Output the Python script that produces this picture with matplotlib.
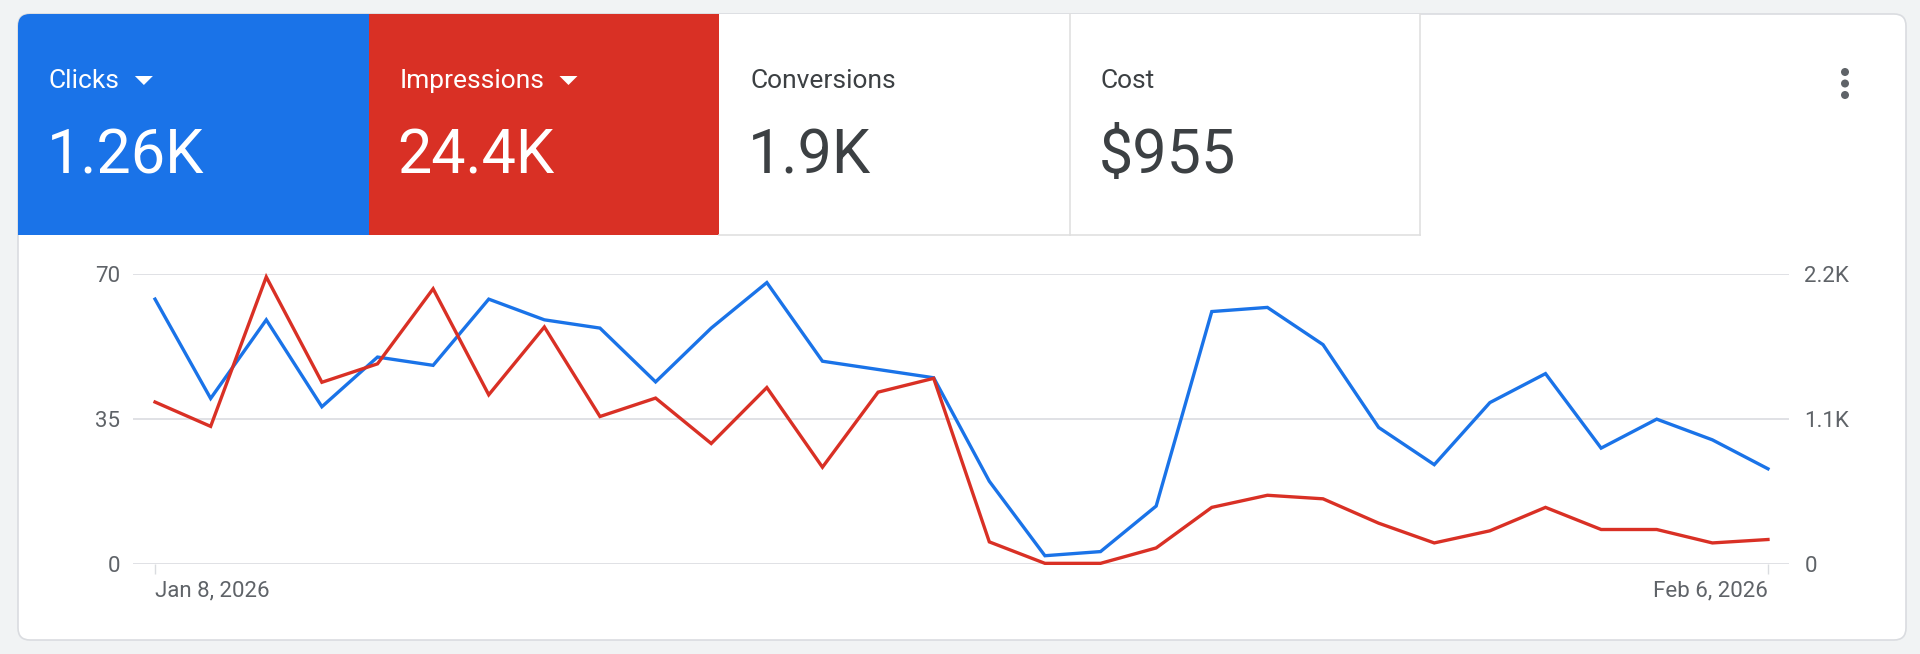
import numpy as np
import pandas as pd
import matplotlib
matplotlib.use('Agg')
import matplotlib.pyplot as plt
from matplotlib.patches import FancyBboxPatch, Rectangle, Polygon, Circle


dates = pd.date_range('2026-01-08', '2026-02-06', freq='D')
clicks = [64, 40, 59, 38, 50, 48, 64, 59, 57, 44, 57, 68, 49, 47, 45,
          20, 2, 3, 14, 61, 62, 53, 33, 24, 39, 46, 28, 35, 30, 23]
impressions = [1230, 1045, 2180, 1380, 1520, 2090, 1285, 1800, 1120, 1260,
               915, 1340, 735, 1305, 1410, 168, 5, 5, 122, 430,
               522, 495, 310, 160, 252, 430, 262, 262, 160, 186]

tile_names = ['Clicks', 'Impressions', 'Conversions', 'Cost']
tile_values = ['1.26K', '24.4K', '1.9K', '$955']
tile_colors = ['#1a73e8', '#d93025', 'white', 'white']
tile_dropdown = [True, True, False, False]

left_ticks = [0, 35, 70]
right_ticks = [0, 1100, 2200]
right_labels = ['0', '1.1K', '2.2K']

plt.rcParams['font.family'] = ['Roboto', 'DejaVu Sans']

W, H = 1920, 654
fig = plt.figure(figsize=(W / 100, H / 100), dpi=100, facecolor='#f1f3f4')
bg = fig.add_axes([0, 0, 1, 1])
bg.set_xlim(0, W)
bg.set_ylim(H, 0)
bg.axis('off')

card = FancyBboxPatch((18, 14), 1888, 626, boxstyle='round,pad=0,rounding_size=12',
                      fc='white', ec='#dadce0', lw=1.2, zorder=1)
bg.add_patch(card)

# metric tiles
tile_w = 350.6
tile_top, tile_bot = 14, 235
renderer = fig.canvas.get_renderer()
for i, name in enumerate(tile_names):
    x0 = 18 + i * tile_w
    color = tile_colors[i]
    r = Rectangle((x0, tile_top), tile_w, tile_bot - tile_top, fc=color, ec='none', zorder=2)
    bg.add_patch(r)
    r.set_clip_path(card)
    txt_color = 'white' if color != 'white' else '#3c4043'
    if color == 'white':
        bg.plot([x0 + tile_w, x0 + tile_w], [tile_top, tile_bot], color='#e0e0e0', lw=1.2, zorder=3)
        bg.plot([x0, x0 + tile_w], [tile_bot, tile_bot], color='#e0e0e0', lw=1.2, zorder=3)
    t = bg.text(x0 + 31, 88, name, fontsize=19, color=txt_color, va='baseline', ha='left', zorder=4)
    bg.text(x0 + 29, 173, tile_values[i], fontsize=44, color=txt_color,
            va='baseline', ha='left', zorder=4)
    if tile_dropdown[i]:
        bb = t.get_window_extent(renderer)
        xe = bg.transData.inverted().transform((bb.x1, bb.y0))[0]
        tri = Polygon([[xe + 15, 76], [xe + 33, 76], [xe + 24, 85]], closed=True,
                      fc=txt_color, ec='none', zorder=4)
        bg.add_patch(tri)

# three-dot menu
for cy in [72, 83.5, 95]:
    bg.add_patch(Circle((1845, cy), 4, fc='#5f6368', ec='none', zorder=4))

# chart
ax = fig.add_axes([133 / W, 1 - 564 / H, (1789 - 133) / W, (564 - 274.3) / H])
ax.patch.set_alpha(0)
ax2 = ax.twinx()
x = np.arange(len(dates))

ax.plot(x, clicks, color='#1a73e8', lw=2.4, clip_on=False, solid_joinstyle='miter', zorder=3)
ax2.plot(x, impressions, color='#d93025', lw=2.4, clip_on=False, solid_joinstyle='miter', zorder=3)

ax.set_ylim(0, 70)
ax2.set_ylim(0, 2200)
ax.set_xlim(-0.396, 29.378)
ax.set_yticks(left_ticks)
ax2.set_yticks(right_ticks, right_labels)
ax.grid(axis='y', color='#dadce0', lw=1.2)
ax.set_axisbelow(True)
for a in (ax, ax2):
    for s in a.spines.values():
        s.set_visible(False)

ax.tick_params(axis='y', length=0, pad=9, labelsize=16, labelcolor='#5f6368')
ax2.tick_params(axis='y', length=0, pad=11, labelsize=16, labelcolor='#5f6368')

first, last = dates[0], dates[-1]
ax.set_xticks([0, len(dates) - 1],
              [f'{first:%b} {first.day}, {first.year}', f'{last:%b} {last.day}, {last.year}'])
ax.tick_params(axis='x', length=7, width=1, color='#dadce0', pad=5, labelsize=16, labelcolor='#5f6368')
xl = ax.get_xticklabels()
xl[0].set_ha('left')
xl[1].set_ha('right')

fig.savefig('out.png', dpi=100, facecolor=fig.get_facecolor())
